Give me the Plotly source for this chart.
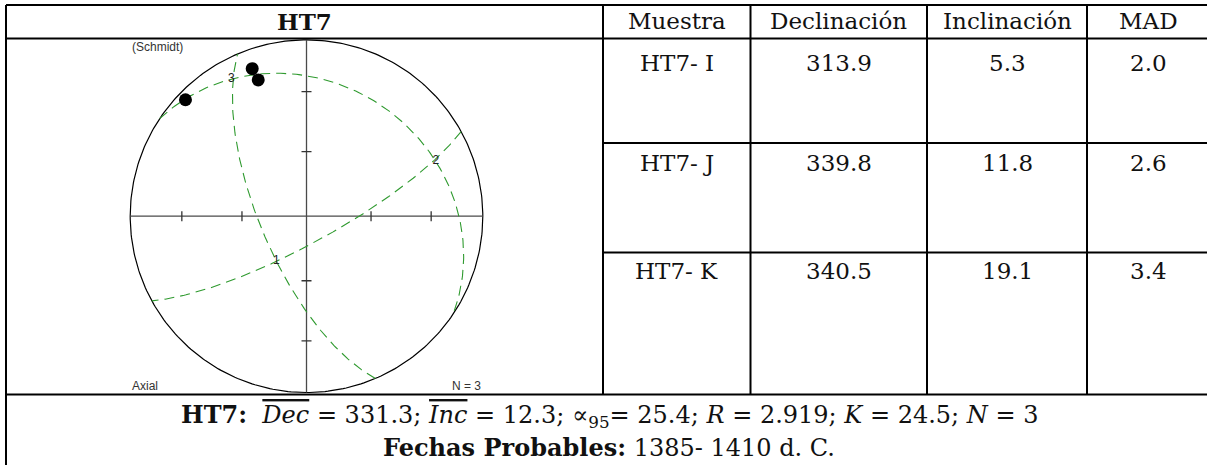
import numpy as np
import plotly.graph_objects as go

# tabla de muestras
site = "HT7"
columns = ["Muestra", "Declinación", "Inclinación", "MAD"]
samples = ["HT7- I", "HT7- J", "HT7- K"]
declination = [313.9, 339.8, 340.5]
inclination = [5.3, 11.8, 19.1]
mad = [2.0, 2.6, 3.4]

# estadistica del sitio (pie)
stat_names = ["Dec", "Inc", "∝<sub>95</sub>", "R", "K", "N"]
stat_values = ["331.3", "12.3", "25.4", "2.919", "24.5", "3"]
dates = "1385- 1410 d. C."

axis_labels = ["1", "2", "3"]
axis_trend = [213.6, 67.0, 331.3]
axis_plunge = [64.8, 21.4, 12.3]

W, H = 1207, 465
SERIF = "DejaVu Serif"
SANS = "Liberation Sans"
GREEN = "#2f9a2f"


def schmidt(trend, plunge):
    """Proyeccion de igual area (hemisferio inferior), radio 1."""
    t = np.radians(np.asarray(trend, dtype=float))
    p = np.radians(np.asarray(plunge, dtype=float))
    r = np.sqrt(2) * np.sin((np.pi / 2 - p) / 2)
    return r * np.sin(t), r * np.cos(t)


def great_circle(trend, plunge, n=181):
    """Circulo maximo perpendicular al eje (trend, plunge)."""
    t, p = np.radians(trend), np.radians(plunge)
    pole = np.array([np.cos(p) * np.cos(t), np.cos(p) * np.sin(t), np.sin(p)])
    strike = np.array([-np.sin(t), np.cos(t), 0.0])
    dip = np.cross(pole, strike)
    s = np.linspace(0, np.pi, n)
    v = np.outer(np.cos(s), strike) + np.outer(np.sin(s), dip)
    tr = np.degrees(np.arctan2(v[:, 1], v[:, 0]))
    pl = np.degrees(np.arcsin(np.clip(v[:, 2], -1, 1)))
    return schmidt(tr, pl)


def px(x):
    return x / W


def py(y):
    return 1 - y / H


fig = go.Figure()

# --- estereograma ---
cx, cy, R = 306.5, 216.2, 176.3
half = R * 1.05

th = np.linspace(0, 2 * np.pi, 361)
fig.add_trace(go.Scatter(x=np.sin(th), y=np.cos(th), mode="lines",
                         line=dict(color="black", width=1.2), hoverinfo="skip"))
fig.add_trace(go.Scatter(x=[-1, 1, None, 0, 0], y=[0, 0, None, -1, 1], mode="lines",
                         line=dict(color="#4a4a4a", width=1.3), hoverinfo="skip"))

# marcas a 30 y 60 grados del centro
tx, ty = [], []
tl = 5 / R
for ang in [30, 60]:
    r = np.sqrt(2) * np.sin(np.radians(ang) / 2)
    for sgn in [-1, 1]:
        tx += [sgn * r, sgn * r, None, -tl, tl, None]
        ty += [-tl, tl, None, sgn * r, sgn * r, None]
fig.add_trace(go.Scatter(x=tx, y=ty, mode="lines",
                         line=dict(color="#333333", width=1.3), hoverinfo="skip"))

for tr, pl in zip(axis_trend, axis_plunge):
    gx, gy = great_circle(tr, pl)
    fig.add_trace(go.Scatter(x=gx, y=gy, mode="lines",
                             line=dict(color=GREEN, width=1.1, dash="10px,6px"),
                             hoverinfo="skip"))

ax_x, ax_y = schmidt(axis_trend, axis_plunge)
fig.add_trace(go.Scatter(x=ax_x, y=ax_y, mode="text", text=axis_labels,
                         textfont=dict(family=SANS, size=12, color="#222222"),
                         hoverinfo="skip"))

dx, dy = schmidt(declination, inclination)
fig.add_trace(go.Scatter(x=dx, y=dy, mode="markers", cliponaxis=False,
                         marker=dict(color="black", size=13), text=samples,
                         hoverinfo="text"))

fig.update_layout(
    width=W, height=H,
    margin=dict(l=0, r=0, t=0, b=0),
    paper_bgcolor="white", plot_bgcolor="white",
    showlegend=False,
    xaxis=dict(domain=[px(cx - half), px(cx + half)], range=[-1.05, 1.05], visible=False),
    yaxis=dict(domain=[py(cy + half), py(cy - half)], range=[-1.05, 1.05], visible=False),
)

# --- bordes de la tabla ---
black = dict(color="black", width=2)
lines = [
    (6, 5, W, 5), (6, 38.5, W, 38.5), (6, 394.5, W, 394.5),
    (6, 5, 6, H),
    (603, 5, 603, 394.5), (750.5, 5, 750.5, 394.5),
    (927, 5, 927, 394.5), (1087, 5, 1087, 394.5),
    (603, 143, W, 143), (603, 252.5, W, 252.5),
]
for x0, y0, x1, y1 in lines:
    fig.add_shape(type="line", xref="paper", yref="paper",
                  x0=px(x0), y0=py(y0), x1=px(x1), y1=py(y1), line=black)


def note(x, y, text, size=23, family=SERIF, xanchor="center", color="#111111"):
    fig.add_annotation(x=px(x), y=py(y), xref="paper", yref="paper", text=text,
                       showarrow=False, xanchor=xanchor, yanchor="middle",
                       font=dict(family=family, size=size, color=color))


col_x = [676.5, 838.5, 1007, 1148.5]
row_y = [63, 163, 271]

note(304, 21, f"<b>{site}</b>")
for x, name in zip(col_x, columns):
    note(x, 21, name)
for i, y in enumerate(row_y):
    vals = [samples[i], f"{declination[i]:.1f}", f"{inclination[i]:.1f}", f"{mad[i]:.1f}"]
    for x, v in zip(col_x, vals):
        note(x, y, v)

note(130, 47, "(Schmidt)", size=12, family=SANS, xanchor="left", color="#333333")
note(130, 386, "Axial", size=12, family=SANS, xanchor="left", color="#333333")
note(483, 386, f"N = {len(samples)}", size=12, family=SANS, xanchor="right", color="#333333")

# pie con la estadistica
parts = []
for name, val in zip(stat_names, stat_values):
    if name in ("Dec", "Inc"):
        parts.append(f"<span style='text-decoration:overline'><i>{name}</i></span> = {val}")
    elif name.startswith("∝"):
        parts.append(f"{name}= {val}")
    else:
        parts.append(f"<i>{name}</i> = {val}")
line1 = f"<b>{site}:</b>  " + "; ".join(parts)
note(609, 416, line1, size=24)
note(609, 447, f"<b>Fechas Probables:</b> {dates}", size=24)

fig.write_html("out.html", config={"displayModeBar": False},
               post_script="document.body.style.margin='0px';")
